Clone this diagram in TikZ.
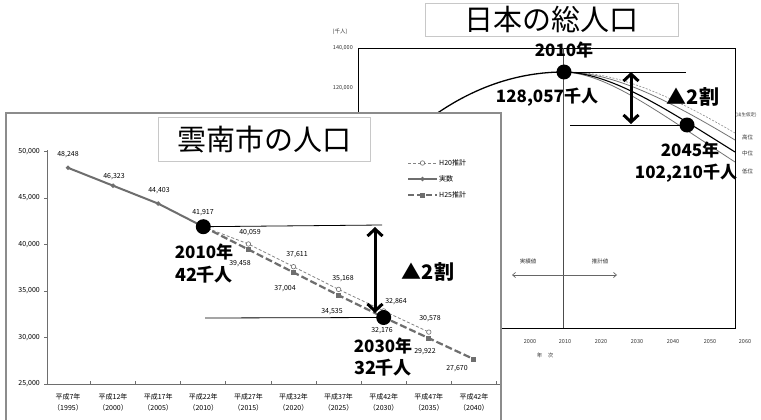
\documentclass[tikz,border=0pt]{standalone}
\usepackage{fontspec}
\setmainfont{Noto Sans CJK JP}
\usetikzlibrary{arrows.meta,shapes.geometric}
\definecolor{datagray}{HTML}{6E6E6E}
\definecolor{framegray}{HTML}{8C8C8C}
\definecolor{boxgray}{HTML}{C8C8C8}
\begin{document}
\begin{tikzpicture}[x=1pt,y=-1pt,
  smallnum/.style={font=\fontsize{7}{8}\selectfont, inner sep=0},
  tinylbl/.style={font=\fontsize{5.5}{6}\selectfont, inner sep=0, text=black!80},
  catlbl/.style={font=\fontsize{7}{11}\selectfont, align=center, inner sep=0},
  biglbl/.style={font=\fontsize{17}{19}\selectfont\bfseries, inner sep=0},
  ttl/.style={draw=boxgray, fill=white, line width=0.8, font=\fontsize{29}{30}\selectfont, inner sep=0},
  bigdot/.style={circle, fill=black, minimum size=15pt, inner sep=0},
  dblarrow/.style={line width=3, {Straight Barb[length=7pt,width=15pt]}-{Straight Barb[length=7pt,width=15pt]}},
  actual/.style={draw=datagray, line width=2},
  hA/.style={draw=datagray!85, line width=0.8, dash pattern=on 3pt off 2pt},
  hB/.style={draw=datagray, line width=2.2, dash pattern=on 7pt off 3pt},
  actmark/.style={diamond, fill=datagray, minimum size=5pt, inner sep=0},
  hAmark/.style={circle, draw=datagray, fill=white, line width=0.6, minimum size=4.5pt, inner sep=0},
  hBmark/.style={rectangle, fill=datagray, minimum size=5pt, inner sep=0},
  thinline/.style={draw=black, line width=0.8}
]
\useasboundingbox (0,0) rectangle (761,420);
\fill[white] (0,0) rectangle (761,420);

%================ Japan chart (back) ================
\draw[line width=0.9] (358,48) rectangle (735,328);
\draw[line width=1, black!70] (563,48) -- (563,328);
\node[ttl, minimum width=253pt, minimum height=33pt, anchor=north west] (jtitle) at (425,3) {日本の総人口};
\node[tinylbl] (junit) at (340,32) {(千人)};
\node[tinylbl, anchor=east] (j140) at (353,48) {140,000};
\node[tinylbl, anchor=east] (j120) at (353,88) {120,000};
\foreach \yr/\xx in {2000/530,2010/565,2020/601,2030/637,2040/673,2050/710,2060/745}
  \node[tinylbl] (jx\yr) at (\xx,342) {\yr};
\node[tinylbl] (jxlab) at (545,355) {年\quad 次};
\node[tinylbl] (jact) at (528,261) {実績値};
\node[tinylbl] (jest) at (600,261) {推計値};
\coordinate (jarrL) at (512,275);
\coordinate (jarrR) at (617,275);
\draw[black!60, line width=0.7, {Straight Barb[length=3pt,width=5pt]}-{Straight Barb[length=3pt,width=5pt]}] (jarrL) -- (jarrR);

% population curves
\coordinate (jstart) at (420,126);
\coordinate (jpeak) at (564,72);
\coordinate (jhigh) at (735,140);
\coordinate (jmid) at (735,152);
\coordinate (jlow) at (735,162);
\coordinate (jref) at (735,133);
\draw[line width=1.3] (jstart) .. controls (470,86) and (520,72) .. (jpeak);
\draw[black!45, line width=0.6, dash pattern=on 2pt off 1.5pt] (jpeak) .. controls (615,71) and (670,95) .. (jref);
\draw[black!55, line width=0.8] (jpeak) .. controls (612,72) and (665,98) .. (jhigh);
\draw[black!55, line width=0.8] (jpeak) .. controls (608,74) and (655,110) .. (jlow);
\draw[black, line width=1.1] (jpeak) .. controls (610,73) and (660,105) .. (jmid);
\node[tinylbl, font=\fontsize{4.5}{5}\selectfont] (jleg0) at (746,115) {(出生仮定)};
\node[tinylbl, anchor=west] (jleg1) at (742,137) {高位};
\node[tinylbl, anchor=west] (jleg2) at (742,153) {中位};
\node[tinylbl, anchor=west] (jleg3) at (742,171) {低位};

\node[bigdot] (jd1) at (564,72) {};
\node[bigdot] (jd2) at (687,125) {};
\coordinate (jtopR) at (686,72);
\coordinate (jbotL) at (570,125);
\draw[thinline] (jd1.center) -- (jtopR);
\draw[thinline] (jbotL) -- (jd2.center);
\coordinate (jaT) at (631,72);
\coordinate (jaB) at (631,124);
\draw[dblarrow] (jaT) -- (jaB);
\node[biglbl] (j2010) at (564,50) {2010年};
\node[biglbl] (jval1) at (547,97) {128,057千人};
\node[font=\fontsize{20}{22}\selectfont\bfseries, inner sep=0] (jdown) at (693,97) {▲2割};
\node[biglbl] (j2045) at (690,150) {2045年};
\node[biglbl] (jval2) at (686,173) {102,210千人};

%================ Unnan chart (front) ================
\filldraw[fill=white, draw=framegray, line width=1.5] (6,113) rectangle (501,430);
\node[ttl, minimum width=212pt, minimum height=44pt, anchor=north west] (utitle) at (158,117) {雲南市の人口};

% axes
\draw[datagray, line width=1] (47,150) -- (47,384) -- (500,384);
\foreach \v/\yy in {50{,}000/151.5,45{,}000/198,40{,}000/244.5,35{,}000/291,30{,}000/337.5,25{,}000/384}{
  \draw[datagray, line width=0.8] (44,\yy) -- (47,\yy);
  \node[smallnum, anchor=east] at (40,\yy) {\v};
}
\foreach \i in {0,...,9}
  \draw[datagray, line width=1] ({90.6+45.1*\i},384) -- ({90.6+45.1*\i},381);
\foreach \i/\a/\b in {0/平成7年/1995,1/平成12年/2000,2/平成17年/2005,3/平成22年/2010,4/平成27年/2015,5/平成32年/2020,6/平成37年/2025,7/平成42年/2030,8/平成47年/2035,9/平成42年/2040}
  \node[catlbl] (cat\i) at ({68+45.1*\i},402.5) {\a\\（\b）};

% data points
\coordinate (a0) at (68,167.8);
\coordinate (a1) at (113.1,185.7);
\coordinate (a2) at (158.2,203.6);
\coordinate (a3) at (203.3,226.7);
\coordinate (p4) at (248.4,244.0);
\coordinate (p5) at (293.5,266.7);
\coordinate (p6) at (338.6,289.4);
\coordinate (p7) at (383.7,310.9);
\coordinate (p8) at (428.8,332.1);
\coordinate (q4) at (248.4,249.5);
\coordinate (q5) at (293.5,272.4);
\coordinate (q6) at (338.6,295.3);
\coordinate (q7) at (383.7,317.3);
\coordinate (q8) at (428.8,338.2);
\coordinate (q9) at (473.9,359.2);

\draw[hA] (a3) -- (p4) -- (p5) -- (p6) -- (p7) -- (p8);
\draw[hB] (a3) -- (q4) -- (q5) -- (q6) -- (q7) -- (q8) -- (q9);
\draw[actual] (a0) -- (a1) -- (a2) -- (a3);
\foreach \c in {p4,p5,p6,p7,p8} \node[hAmark] at (\c) {};
\foreach \c in {q4,q5,q6,q7,q8,q9} \node[hBmark] at (\c) {};
\foreach \c in {a0,a1,a2} \node[actmark] at (\c) {};

% value labels
\node[smallnum] (l0) at (68,155) {48,248};
\node[smallnum] (l1) at (114,177) {46,323};
\node[smallnum] (l2) at (159,191) {44,403};
\node[smallnum] (l3) at (203,213) {41,917};
\node[smallnum] (l4) at (250,233) {40,059};
\node[smallnum] (l5) at (240,264) {39,458};
\node[smallnum] (l6) at (297,255) {37,611};
\node[smallnum] (l7) at (285,289) {37,004};
\node[smallnum] (l8) at (343,279) {35,168};
\node[smallnum] (l9) at (332,312) {34,535};
\node[smallnum] (l10) at (396,302) {32,864};
\node[smallnum] (l11) at (382,331) {32,176};
\node[smallnum] (l12) at (430,319) {30,578};
\node[smallnum] (l13) at (425,352) {29,922};
\node[smallnum] (l14) at (457,369) {27,670};

% legend
\coordinate (lgA1) at (408,163); \coordinate (lgA2) at (437,163);
\coordinate (lgB1) at (408,179); \coordinate (lgB2) at (437,179);
\coordinate (lgC1) at (408,195); \coordinate (lgC2) at (437,195);
\draw[hA] (lgA1) -- (lgA2); \node[hAmark] at (422.5,163) {};
\draw[actual] (lgB1) -- (lgB2); \node[actmark] at (422.5,179) {};
\draw[hB, dash pattern=on 6pt off 3pt] (lgC1) -- (lgC2); \node[hBmark] at (422.5,195) {};
\node[smallnum, anchor=west] (lgA) at (439,163) {H20推計};
\node[smallnum, anchor=west] (lgB) at (439,179) {実数};
\node[smallnum, anchor=west] (lgC) at (439,195) {H25推計};

% highlights
\node[bigdot] (ud1) at (203.3,226.7) {};
\node[bigdot] (ud2) at (383.7,317.5) {};
\coordinate (utopR) at (382,225);
\coordinate (ubotL) at (205,318);
\draw[thinline] (ud1.center) -- (utopR);
\draw[thinline] (ubotL) -- (ud2.center);
\coordinate (uaT) at (375,227);
\coordinate (uaB) at (375,313);
\draw[dblarrow] (uaT) -- (uaB);
\node[font=\fontsize{20}{22}\selectfont\bfseries, inner sep=0] (udown) at (428,272) {▲2割};
\node[biglbl] (u2010) at (204,252) {2010年};
\node[biglbl, font=\fontsize{18}{20}\selectfont\bfseries] (uval1) at (204,275) {42千人};
\node[biglbl] (u2030) at (383,346) {2030年};
\node[biglbl, font=\fontsize{18}{20}\selectfont\bfseries] (uval2) at (383,368) {32千人};
\end{tikzpicture}
\end{document}
